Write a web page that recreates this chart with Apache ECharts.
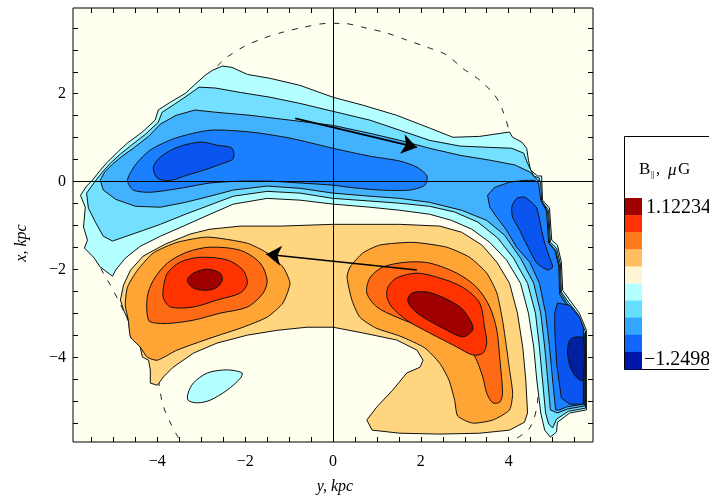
<!DOCTYPE html>
<html><head><meta charset="utf-8">
<script src="https://cdn.jsdelivr.net/npm/echarts@6/dist/echarts.min.js"></script>
<style>html,body{margin:0;padding:0;background:#fff}#c{width:709px;height:498px}</style>
</head><body><div id="c"></div>
<script>
// ---- axes (kpc) ----
const hMin = -5.92, hMax = 5.92;      // horizontal axis "y, kpc"
const vMin = -5.92, vMax = 3.95;      // vertical axis "x, kpc"
const hLabels = [-4, -2, 0, 2, 4];
const vLabels = [-4, -2, 0, 2];
const hTicks = [-5.5,-5,-4.5,-4,-3.5,-3,-2.5,-2,-1.5,-1,-0.5,0,0.5,1,1.5,2,2.5,3,3.5,4,4.5,5,5.5];
const vTicks = [-5.5,-5,-4.5,-4,-3.5,-3,-2.5,-2,-1.5,-1,-0.5,0,0.5,1,1.5,2,2.5,3,3.5];

// ---- colour scale (legend) ----
const legendMax = '1.12234', legendMin = '\u22121.2498';
const legendColors = ['#a00000','#ff3300','#ff7a1a','#ffbf5f','#fff5d5','#b4ffff','#66dcff','#33a6ff','#1166ff','#0018aa'];

// ---- contour level regions, points are [y, x] in kpc ----
const n1 = [[-5.75,-0.31],[-5.61,-0.10],[-5.48,0.03],[-5.30,0.26],[-5.14,0.44],[-4.91,0.67],[-4.68,0.88],[-4.34,1.13],[-4.05,1.40],[-3.98,1.63],[-3.70,1.81],[-3.36,2.01],[-3.09,2.26],[-2.91,2.42],[-2.75,2.53],[-2.52,2.63],[-2.30,2.60],[-1.95,2.44],[-1.43,2.35],[-0.75,2.19],[0,1.92],[0.68,1.74],[1.45,1.51],[2.20,1.22],[2.73,1.01],[3.34,1.03],[4.02,1.13],[4.09,1.01],[4.30,0.90],[4.41,0.76],[4.45,0.49],[4.50,0.26],[4.66,0.13],[4.75,0.13],[4.77,-0.42],[4.93,-0.60],[4.98,-1.33],[5.11,-1.44],[5.20,-1.83],[5.23,-2.47],[5.39,-2.69],[5.61,-2.99],[5.77,-3.38],[5.77,-5.19],[5.39,-5.26],[5.11,-5.47],[5.09,-5.69],[4.95,-5.81],[4.82,-5.65],[4.73,-5.26],[4.64,-4.51],[4.57,-3.76],[4.45,-2.99],[4.27,-2.31],[3.95,-1.78],[3.57,-1.38],[3.16,-1.08],[2.70,-0.88],[2.20,-0.74],[1.52,-0.65],[0.84,-0.58],[0,-0.51],[-0.75,-0.42],[-1.50,-0.38],[-2.27,-0.51],[-2.80,-0.74],[-3.36,-0.99],[-3.93,-1.24],[-4.39,-1.47],[-4.73,-1.74],[-4.95,-2.01],[-5.02,-2.15],[-5.30,-1.94],[-5.45,-1.72],[-5.66,-1.51],[-5.59,-1.33],[-5.68,-1.03],[-5.64,-0.58]];
const n1Island = [[-3.30,-4.81],[-3.18,-4.58],[-2.86,-4.35],[-2.41,-4.28],[-2.07,-4.35],[-2.11,-4.47],[-2.41,-4.74],[-2.80,-4.97],[-3.09,-5.03],[-3.30,-4.97]];
const n2 = [[-5.61,-0.26],[-5.43,-0.01],[-5.25,0.22],[-5.07,0.42],[-4.84,0.63],[-4.59,0.83],[-4.27,1.08],[-3.98,1.35],[-3.89,1.58],[-3.61,1.76],[-3.30,1.97],[-3.05,2.15],[-2.68,2.13],[-2.11,2.03],[-1.43,1.92],[-0.75,1.78],[0,1.60],[0.84,1.40],[1.52,1.17],[2.20,0.94],[2.89,0.81],[3.57,0.78],[4.07,0.76],[4.34,0.65],[4.43,0.42],[4.57,0.13],[4.70,0.08],[4.73,-0.42],[4.91,-0.65],[4.95,-1.38],[5.09,-1.51],[5.18,-1.88],[5.20,-2.51],[5.36,-2.74],[5.59,-3.03],[5.75,-3.42],[5.75,-5.15],[5.36,-5.22],[5.09,-5.40],[5.00,-5.60],[4.91,-5.51],[4.84,-5.26],[4.77,-4.51],[4.70,-3.76],[4.61,-2.99],[4.43,-2.31],[4.11,-1.74],[3.75,-1.28],[3.30,-0.92],[2.77,-0.69],[2.20,-0.56],[1.52,-0.49],[0.84,-0.44],[0,-0.38],[-0.75,-0.26],[-1.50,-0.22],[-2.27,-0.33],[-2.80,-0.53],[-3.36,-0.74],[-3.93,-0.97],[-4.50,-1.17],[-5.02,-1.35],[-5.23,-1.24],[-5.41,-0.92],[-5.57,-0.60]];
const n3 = [[-5.30,0.03],[-5.20,0.22],[-5.02,0.40],[-4.80,0.58],[-4.52,0.78],[-4.20,1.03],[-3.93,1.31],[-3.57,1.51],[-3.14,1.63],[-2.68,1.58],[-1.89,1.51],[-0.98,1.40],[0,1.28],[0.84,1.10],[1.52,0.94],[2.20,0.76],[2.89,0.60],[3.57,0.49],[4.14,0.38],[4.48,0.22],[4.66,0.03],[4.73,-0.01],[4.75,-0.42],[4.89,-0.69],[4.93,-1.40],[5.07,-1.56],[5.16,-1.92],[5.18,-2.53],[5.34,-2.78],[5.57,-3.08],[5.73,-3.47],[5.73,-5.10],[5.34,-5.17],[5.11,-5.26],[4.95,-5.19],[4.89,-4.51],[4.82,-3.76],[4.73,-2.99],[4.57,-2.31],[4.27,-1.74],[3.91,-1.22],[3.50,-0.88],[2.93,-0.65],[2.20,-0.47],[1.52,-0.38],[0.84,-0.33],[0,-0.26],[-0.75,-0.15],[-1.50,-0.10],[-2.27,-0.19],[-2.80,-0.33],[-3.36,-0.47],[-3.93,-0.58],[-4.50,-0.56],[-4.95,-0.40],[-5.23,-0.19]];
const n4Left = [[-4.68,0.03],[-4.50,0.38],[-4.16,0.72],[-3.59,0.99],[-2.80,1.17],[-1.89,1.13],[-0.98,0.99],[0,0.76],[0.84,0.58],[1.52,0.47],[1.91,0.33],[2.14,0.13],[2.09,-0.08],[1.75,-0.19],[1.07,-0.19],[0.39,-0.13],[0,-0.08],[-0.75,-0.03],[-1.43,0.01],[-2.11,0.01],[-2.80,-0.03],[-3.48,-0.15],[-4.16,-0.24],[-4.55,-0.19]];
const n4Right = [[3.52,-0.31],[3.68,-0.13],[4.02,-0.01],[4.36,0.03],[4.59,0.03],[4.68,-0.03],[4.73,-0.42],[4.86,-0.67],[4.91,-1.40],[5.05,-1.56],[5.14,-1.92],[5.16,-2.56],[5.32,-2.81],[5.55,-3.10],[5.70,-3.51],[5.70,-5.06],[5.32,-5.12],[5.16,-5.19],[5.07,-5.19],[5.00,-4.51],[4.93,-3.76],[4.84,-2.99],[4.70,-2.31],[4.48,-1.83],[4.18,-1.49],[3.95,-1.10],[3.73,-0.81],[3.57,-0.58]];
const n5Left = [[-4.09,0.33],[-3.93,0.56],[-3.55,0.78],[-3.02,0.90],[-2.64,0.83],[-2.30,0.76],[-2.27,0.53],[-2.50,0.42],[-2.95,0.26],[-3.32,0.15],[-3.70,0.03],[-4.00,0.08]];
const n5RightUp = [[4.07,-0.58],[4.18,-0.38],[4.36,-0.35],[4.52,-0.47],[4.64,-0.60],[4.75,-1.10],[4.82,-1.40],[4.93,-1.72],[5.00,-1.94],[4.89,-2.01],[4.64,-1.85],[4.36,-1.33],[4.25,-1.10],[4.09,-0.81]];
const n5RightLow = [[5.11,-2.76],[5.39,-2.81],[5.61,-3.08],[5.70,-3.31],[5.70,-5.06],[5.39,-5.06],[5.20,-4.92],[5.09,-4.13],[5.05,-3.38],[5.05,-2.99]];
const n6 = [[5.39,-3.60],[5.55,-3.53],[5.70,-3.56],[5.70,-4.51],[5.61,-4.51],[5.43,-4.28],[5.34,-3.90]];
const p1 = [[0,-0.97],[0.84,-0.97],[1.52,-0.97],[2.43,-1.01],[2.93,-1.15],[3.39,-1.44],[3.73,-1.83],[4.02,-2.31],[4.20,-2.99],[4.32,-3.76],[4.39,-4.51],[4.43,-5.26],[4.36,-5.47],[4.02,-5.65],[3.34,-5.72],[2.43,-5.74],[1.52,-5.72],[0.89,-5.65],[0.77,-5.42],[1.00,-5.12],[1.36,-4.74],[1.68,-4.35],[1.98,-4.22],[2.05,-4.06],[1.91,-3.83],[1.45,-3.60],[0.68,-3.44],[0,-3.31],[-0.59,-3.31],[-1.27,-3.38],[-1.95,-3.49],[-2.64,-3.67],[-3.18,-3.90],[-3.64,-4.22],[-3.86,-4.44],[-4.00,-4.63],[-4.16,-4.58],[-4.16,-4.28],[-4.20,-4.06],[-4.34,-3.99],[-4.39,-3.76],[-4.61,-3.53],[-4.66,-3.15],[-4.77,-2.92],[-4.84,-2.69],[-4.77,-2.35],[-4.61,-2.01],[-4.32,-1.69],[-3.82,-1.42],[-3.25,-1.19],[-2.80,-1.08],[-2.11,-1.01],[-1.20,-1.01]];
const p2Left = [[-2.86,-1.26],[-1.95,-1.40],[-1.50,-1.62],[-1.14,-1.94],[-0.98,-2.31],[-1.14,-2.76],[-1.50,-3.08],[-2.05,-3.31],[-2.80,-3.56],[-3.55,-3.83],[-4.00,-4.06],[-4.23,-3.99],[-4.39,-3.76],[-4.61,-3.53],[-4.66,-3.15],[-4.73,-2.81],[-4.68,-2.40],[-4.45,-2.01],[-4.09,-1.62],[-3.55,-1.38]];
const p2Right = [[0.32,-2.17],[0.39,-1.94],[0.68,-1.62],[1.07,-1.44],[1.82,-1.38],[2.59,-1.49],[3.11,-1.72],[3.50,-2.08],[3.73,-2.53],[3.86,-3.15],[3.95,-3.76],[4.02,-4.28],[4.09,-4.81],[4.02,-5.19],[3.64,-5.42],[3.18,-5.49],[2.84,-5.33],[2.77,-4.97],[2.64,-4.51],[2.43,-4.13],[2.09,-3.78],[1.52,-3.51],[0.98,-3.33],[0.61,-3.08],[0.43,-2.69]];
const p3Left = [[-4.20,-3.15],[-4.23,-2.63],[-4.09,-2.24],[-3.77,-1.85],[-3.32,-1.60],[-2.80,-1.49],[-2.11,-1.56],[-1.66,-1.85],[-1.50,-2.24],[-1.59,-2.53],[-1.95,-2.85],[-2.57,-2.99],[-3.18,-3.15],[-3.70,-3.22],[-4.00,-3.22]];
const p3Right = [[0.77,-2.53],[0.84,-2.19],[1.14,-1.94],[1.68,-1.83],[2.20,-1.85],[2.82,-2.08],[3.27,-2.40],[3.57,-2.85],[3.73,-3.38],[3.80,-4.06],[3.86,-4.81],[3.80,-5.01],[3.64,-5.03],[3.50,-4.81],[3.41,-4.44],[3.18,-3.90],[2.82,-3.67],[2.20,-3.38],[1.45,-3.08],[1.00,-2.85]];
const p4Left = [[-3.86,-2.40],[-3.77,-2.08],[-3.48,-1.83],[-3.02,-1.72],[-2.41,-1.78],[-2.05,-2.01],[-1.95,-2.31],[-2.11,-2.53],[-2.64,-2.69],[-3.18,-2.85],[-3.70,-2.85],[-3.86,-2.65]];
const p4Right = [[1.23,-2.63],[1.25,-2.40],[1.45,-2.19],[1.91,-2.08],[2.43,-2.19],[2.95,-2.40],[3.34,-2.76],[3.45,-3.31],[3.50,-3.67],[3.41,-3.90],[3.18,-3.94],[2.82,-3.76],[2.20,-3.44],[1.68,-3.15],[1.34,-2.85]];
const p5Left = [[-3.32,-2.24],[-3.18,-2.08],[-2.86,-1.99],[-2.57,-2.08],[-2.52,-2.24],[-2.64,-2.40],[-2.86,-2.47],[-3.18,-2.42]];
const p5Right = [[1.70,-2.69],[1.80,-2.53],[2.14,-2.51],[2.50,-2.63],[2.93,-2.88],[3.16,-3.22],[3.18,-3.38],[2.95,-3.53],[2.50,-3.33],[2.05,-3.08],[1.80,-2.88]];

// dashed boundary curve
const dashedPath = [[-3.52,-5.83],[-3.70,-5.49],[-3.86,-5.12],[-3.93,-4.81],[-4.00,-4.40],[-4.16,-4.06],[-4.50,-3.49],[-4.89,-2.69],[-5.07,-2.35],[-5.23,-2.08],[-5.45,-1.62],[-5.64,-0.99],[-5.61,-0.35],[-4.95,0.38],[-4.14,1.22],[-3.25,1.97],[-2.50,2.76],[-2.05,3.06],[-1.59,3.26],[-1.14,3.40],[-0.68,3.51],[-0.14,3.60],[0.23,3.60],[0.77,3.49],[1.23,3.38],[1.68,3.22],[2.14,3.06],[2.59,2.88],[2.95,2.58],[3.34,2.31],[3.68,1.97],[3.86,1.63],[4.02,1.13],[4.48,-0.42],[4.70,-2.69],[4.66,-4.97],[4.48,-5.60],[4.07,-5.90]];
// arrows [start, end]
const arrow1 = [[-0.86,1.44],[1.91,0.78]];
const arrow2 = [[1.91,-2.01],[-1.52,-1.65]];

// ---- styles ----
const fillOf = {N1:'#b4ffff',N2:'#73e0ff',N3:'#42b2ff',N4:'#1a80ff',N5:'#0a55f0',N6:'#0020a0',
                P1:'#ffd580',P2:'#ffa535',P3:'#ff6a14',P4:'#ff3300',P5:'#a00000'};
const contours = [
  {pts:n1,lv:'N1',s:0},{pts:n1Island,lv:'N1',s:0.3},{pts:n2,lv:'N2',s:0},{pts:n3,lv:'N3',s:0},
  {pts:n4Left,lv:'N4',s:0.25},{pts:n4Right,lv:'N4',s:0},{pts:n5Left,lv:'N5',s:0.3},
  {pts:n5RightUp,lv:'N5',s:0.2},{pts:n5RightLow,lv:'N5',s:0},{pts:n6,lv:'N6',s:0.3},
  {pts:p1,lv:'P1',s:0},{pts:p2Left,lv:'P2',s:0.2},{pts:p2Right,lv:'P2',s:0.2},
  {pts:p3Left,lv:'P3',s:0.3},{pts:p3Right,lv:'P3',s:0.3},{pts:p4Left,lv:'P4',s:0.3},
  {pts:p4Right,lv:'P4',s:0.3},{pts:p5Left,lv:'P5',s:0.3},{pts:p5Right,lv:'P5',s:0.3}
];

const serif = '"Liberation Serif","DejaVu Serif",serif';
const fmt = v => v < 0 ? '\u2212' + Math.abs(v) : String(v);
const chart = echarts.init(document.getElementById('c'));

const legendGraphics = [];
legendGraphics.push({type:'rect',shape:{x:624.5,y:136.5,width:100,height:233},style:{fill:'#fff',stroke:'#000',lineWidth:1},z:10});
legendColors.forEach((c,i)=>{
  legendGraphics.push({type:'rect',shape:{x:625,y:198+i*17.1,width:17,height:17.6},style:{fill:c},z:11});
});
const tfont = (sz,it) => (it?'italic ':'') + sz + 'px ' + serif;
legendGraphics.push(
  {type:'text',x:639,y:170,style:{text:'B',font:tfont(17),fill:'#000',verticalAlign:'middle'},z:12},
  {type:'text',x:651,y:175,style:{text:'||',font:tfont(9),fill:'#000',verticalAlign:'middle'},z:12},
  {type:'text',x:656,y:170,style:{text:',',font:tfont(17),fill:'#000',verticalAlign:'middle'},z:12},
  {type:'text',x:668,y:171,style:{text:'\u03bc',font:tfont(17,true),fill:'#000',verticalAlign:'middle'},z:12},
  {type:'text',x:678,y:170,style:{text:'G',font:tfont(17),fill:'#000',verticalAlign:'middle'},z:12},
  {type:'text',x:646,y:208,style:{text:legendMax,font:tfont(20),fill:'#000',verticalAlign:'middle'},z:12},
  {type:'text',x:644,y:360,style:{text:legendMin,font:tfont(20),fill:'#000',verticalAlign:'middle'},z:12},
  {type:'text',x:335,y:487,style:{text:'y, kpc',font:tfont(16,true),fill:'#000',align:'center',verticalAlign:'middle'}},
  {type:'text',x:22,y:243,rotation:Math.PI/2,style:{text:'x, kpc',font:tfont(16,true),fill:'#000',align:'center',verticalAlign:'middle'}}
);

const tickStyle = {show:true,inside:true,length:5,lineStyle:{color:'#000',width:1}};
const noLine = {show:false,onZero:false};
chart.setOption({
  animation:false,
  backgroundColor:'#fff',
  grid:{left:73,right:116,top:8,bottom:56,show:true,backgroundColor:'#fffff0',borderColor:'#000',borderWidth:1},
  xAxis:[
    {type:'value',min:hMin,max:hMax,position:'bottom',axisLine:noLine,splitLine:{show:false},
     axisTick:Object.assign({customValues:hTicks},tickStyle),
     axisLabel:{customValues:hLabels,formatter:fmt,color:'#000',fontFamily:serif,fontSize:16,margin:12}},
    {type:'value',min:hMin,max:hMax,position:'top',axisLine:noLine,splitLine:{show:false},
     axisTick:Object.assign({customValues:hTicks},tickStyle),axisLabel:{show:false}}
  ],
  yAxis:[
    {type:'value',min:vMin,max:vMax,position:'left',axisLine:noLine,splitLine:{show:false},
     axisTick:Object.assign({customValues:vTicks},tickStyle),
     axisLabel:{customValues:vLabels,formatter:fmt,color:'#000',fontFamily:serif,fontSize:16,margin:7}},
    {type:'value',min:vMin,max:vMax,position:'right',axisLine:noLine,splitLine:{show:false},
     axisTick:Object.assign({customValues:vTicks},tickStyle),axisLabel:{show:false}}
  ],
  graphic:legendGraphics,
  series:[
    {type:'line',data:dashedPath,showSymbol:false,symbol:'none',smooth:0.3,z:1,silent:true,
     lineStyle:{color:'#222',width:1,type:[6,8]}},
    {type:'custom',z:2,clip:true,silent:true,
     data:contours.map((c,i)=>[c.pts[0][0],c.pts[0][1],i]),
     renderItem:function(params,api){
       const c = contours[api.value(2)];
       return {type:'polygon',shape:{points:c.pts.map(p=>api.coord(p)),smooth:c.s},
               style:{fill:fillOf[c.lv],stroke:'#111',lineWidth:1}};
     }},
    {type:'lines',coordinateSystem:'cartesian2d',z:3,silent:true,symbol:'none',
     lineStyle:{color:'#000',width:1,opacity:1},
     data:[{coords:[[hMin,0],[hMax,0]]},{coords:[[0,vMin],[0,vMax]]}]},
    {type:'lines',coordinateSystem:'cartesian2d',z:4,silent:true,symbol:['none','arrow'],symbolSize:15,
     lineStyle:{color:'#000',width:1.6,opacity:1},
     data:[{coords:arrow1},{coords:arrow2}]}
  ]
});
</script></body></html>
